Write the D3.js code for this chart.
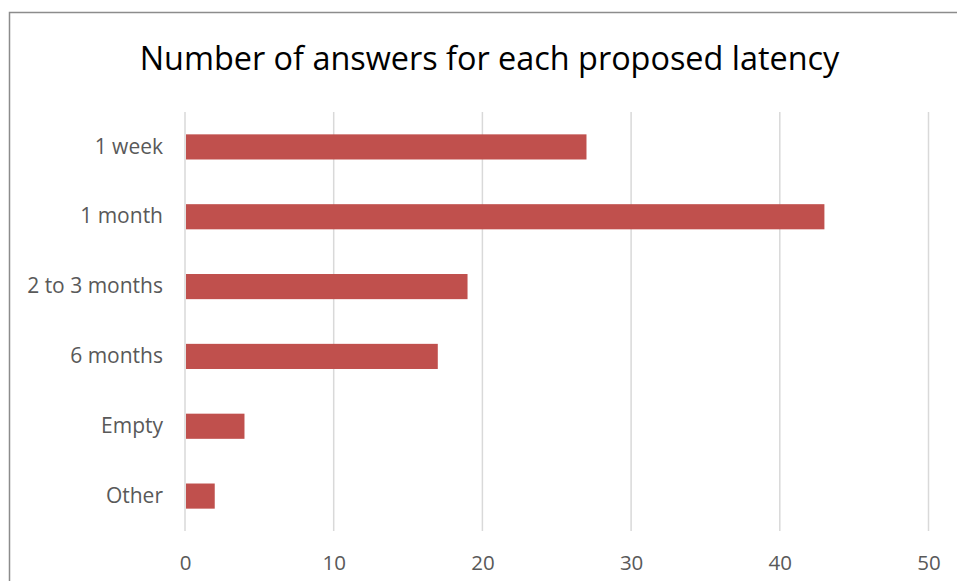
<!DOCTYPE html>
<html><head><meta charset="utf-8">
<script src="https://cdn.jsdelivr.net/npm/d3@7"></script>
<style>body{margin:0;background:#fff}svg{display:block}</style>
</head><body>
<script>
const categories = ["1 week","1 month","2 to 3 months","6 months","Empty","Other"];
const values = [27,43,19,17,4,2];
const xTicks = [0,10,20,30,40,50];
const title = "Number of answers for each proposed latency";

const W = 957, H = 581;
const svg = d3.select("body").append("svg").attr("width",W).attr("height",H);
svg.append("rect").attr("x",0).attr("y",0).attr("width",W).attr("height",H).attr("fill","#fff");
svg.append("rect").attr("x",9.5).attr("y",12.5).attr("width",W+20).attr("height",H+20)
  .attr("fill","#fff").attr("stroke","#8c8c8c").attr("stroke-width",1.5);

const font = "'Open Sans', 'Liberation Sans', sans-serif";
svg.append("text").attr("x",489.5).attr("y",70).attr("text-anchor","middle")
  .attr("font-family",font).attr("font-size",32.4).attr("fill","#000").text(title);

const x = d3.scaleLinear().domain([0,50]).range([185,928.5]);
const y = d3.scaleBand().domain(categories).range([112,531]).paddingInner(0.64).paddingOuter(0.32);

const grid = svg.append("g");
grid.selectAll("line").data(xTicks).join("line")
  .attr("x1",d=>x(d)).attr("x2",d=>x(d)).attr("y1",112).attr("y2",531)
  .attr("stroke","#d9d9d9").attr("stroke-width",1.5);

svg.append("g").selectAll("rect").data(values).join("rect")
  .attr("x",x(0)+1).attr("y",(d,i)=>y(categories[i]))
  .attr("width",d=>x(d)-x(0)-1).attr("height",y.bandwidth())
  .attr("fill","#c0504d");

const xAxis = svg.append("g").attr("transform","translate(0,531)")
  .call(d3.axisBottom(x).tickValues(xTicks).tickSize(0).tickPadding(24));
xAxis.select(".domain").remove();
xAxis.selectAll("text").attr("font-family",font).attr("font-size",20.5).attr("fill","#595959");

const yAxis = svg.append("g").attr("transform","translate(185,0)")
  .call(d3.axisLeft(y).tickSize(0).tickPadding(22));
yAxis.select(".domain").remove();
yAxis.selectAll("text").attr("font-family",font).attr("font-size",21).attr("fill","#595959");
</script>
</body></html>
